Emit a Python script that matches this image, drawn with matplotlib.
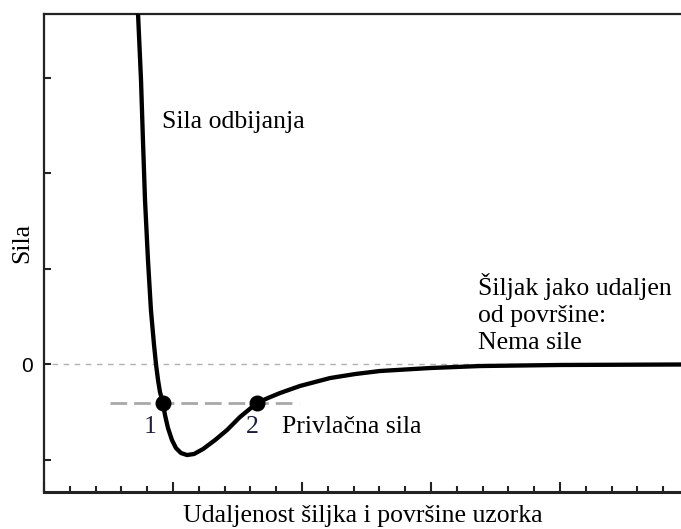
import numpy as np
import matplotlib
matplotlib.use('Agg')
import matplotlib.pyplot as plt

# force-distance curve, values
dist = [0.713, 0.729, 0.752, 0.767, 0.783, 0.806, 0.829, 0.853, 0.868, 0.884,
        0.899, 0.922, 0.938, 0.961, 0.992, 1.023, 1.062, 1.109, 1.163, 1.233,
        1.326, 1.419, 1.519, 1.651, 1.736, 1.829, 1.984, 2.217, 2.411, 2.605,
        2.992, 3.380, 4.000, 4.938]
force = [3.92, 3.665, 2.974, 2.346, 1.717, 1.089, 0.565, 0.199, 0.0, -0.168,
         -0.293, -0.408, -0.534, -0.670, -0.796, -0.880, -0.932, -0.953, -0.942, -0.890,
         -0.796, -0.691, -0.555, -0.408, -0.356, -0.304, -0.230, -0.147, -0.105, -0.073,
         -0.042, -0.021, -0.010, -0.005]

pts_x = [0.922, 1.651]
pts_y = [-0.408, -0.408]
pts_labels = ['1', '2']
pts_label_x = [0.822, 1.612]

level_x = [0.51, 1.98]
level_y = -0.408

serif = 'Liberation Serif'
fs = 18.5

fig = plt.figure(figsize=(6.81, 5.29), dpi=100)
ax = fig.add_axes([44 / 681, 37 / 529, 1 - 44 / 681, 478 / 529])

ax.set_xlim(0, 4.938)
ax.set_ylim(-1.34, 3.665)

# zero line and attraction level
ax.axhline(0, xmin=0.012, color='#b0b0b0', lw=1.0, dashes=(4, 4), zorder=1)
ax.plot(level_x, [level_y, level_y], color='#a8a8a8', lw=2.0, dashes=(6, 2.5), zorder=1)

ax.plot(dist, force, color='black', lw=3.1, solid_capstyle='round',
        solid_joinstyle='round', zorder=3)
ax.plot(pts_x, pts_y, 'o', color='black', ms=10.5, zorder=4)

for x, lab in zip(pts_label_x, pts_labels):
    ax.text(x, -0.66, lab, family=serif, fontsize=fs, color='#1e1e3c',
            ha='center', va='center')

ax.text(0.915, 2.53, 'Sila odbijanja', family=serif, fontsize=fs, ha='left', va='center')
ax.text(1.845, -0.66, 'Privlačna sila', family=serif, fontsize=fs, ha='left', va='center')
ax.text(3.365, 0.95, 'Šiljak jako udaljen\nod površine:\nNema sile', family=serif,
        fontsize=fs, ha='left', va='top', linespacing=1.3)

ax.set_xlabel('Udaljenost šiljka i površine uzorka', family=serif, fontsize=fs, labelpad=6)
fig.text(22 / 681, 1 - 243 / 529, 'Sila', family=serif, fontsize=fs, rotation=90,
         ha='center', va='center')

# ticks
ax.set_xticks([0, 1, 2, 3, 4])
ax.set_xticks(np.arange(0, 4.9, 0.2), minor=True)
ax.set_xticklabels([])
ax.set_yticks([-1, 0, 1, 2, 3])
ax.set_yticklabels(['', '0', '', '', ''], family='Liberation Sans', fontsize=15)
ax.tick_params(axis='x', which='major', direction='in', length=7, width=1.5, color='#222222')
ax.tick_params(axis='x', which='minor', direction='in', length=4, width=1.5, color='#222222')
ax.tick_params(axis='y', direction='in', length=5, width=1.5, color='#222222', pad=8)

for side in ['left', 'top', 'bottom']:
    ax.spines[side].set_color('#222222')
ax.spines['left'].set_linewidth(1.6)
ax.spines['top'].set_linewidth(1.6)
ax.spines['bottom'].set_linewidth(2.2)
ax.spines['right'].set_visible(False)

fig.savefig('out.png', dpi=100)
